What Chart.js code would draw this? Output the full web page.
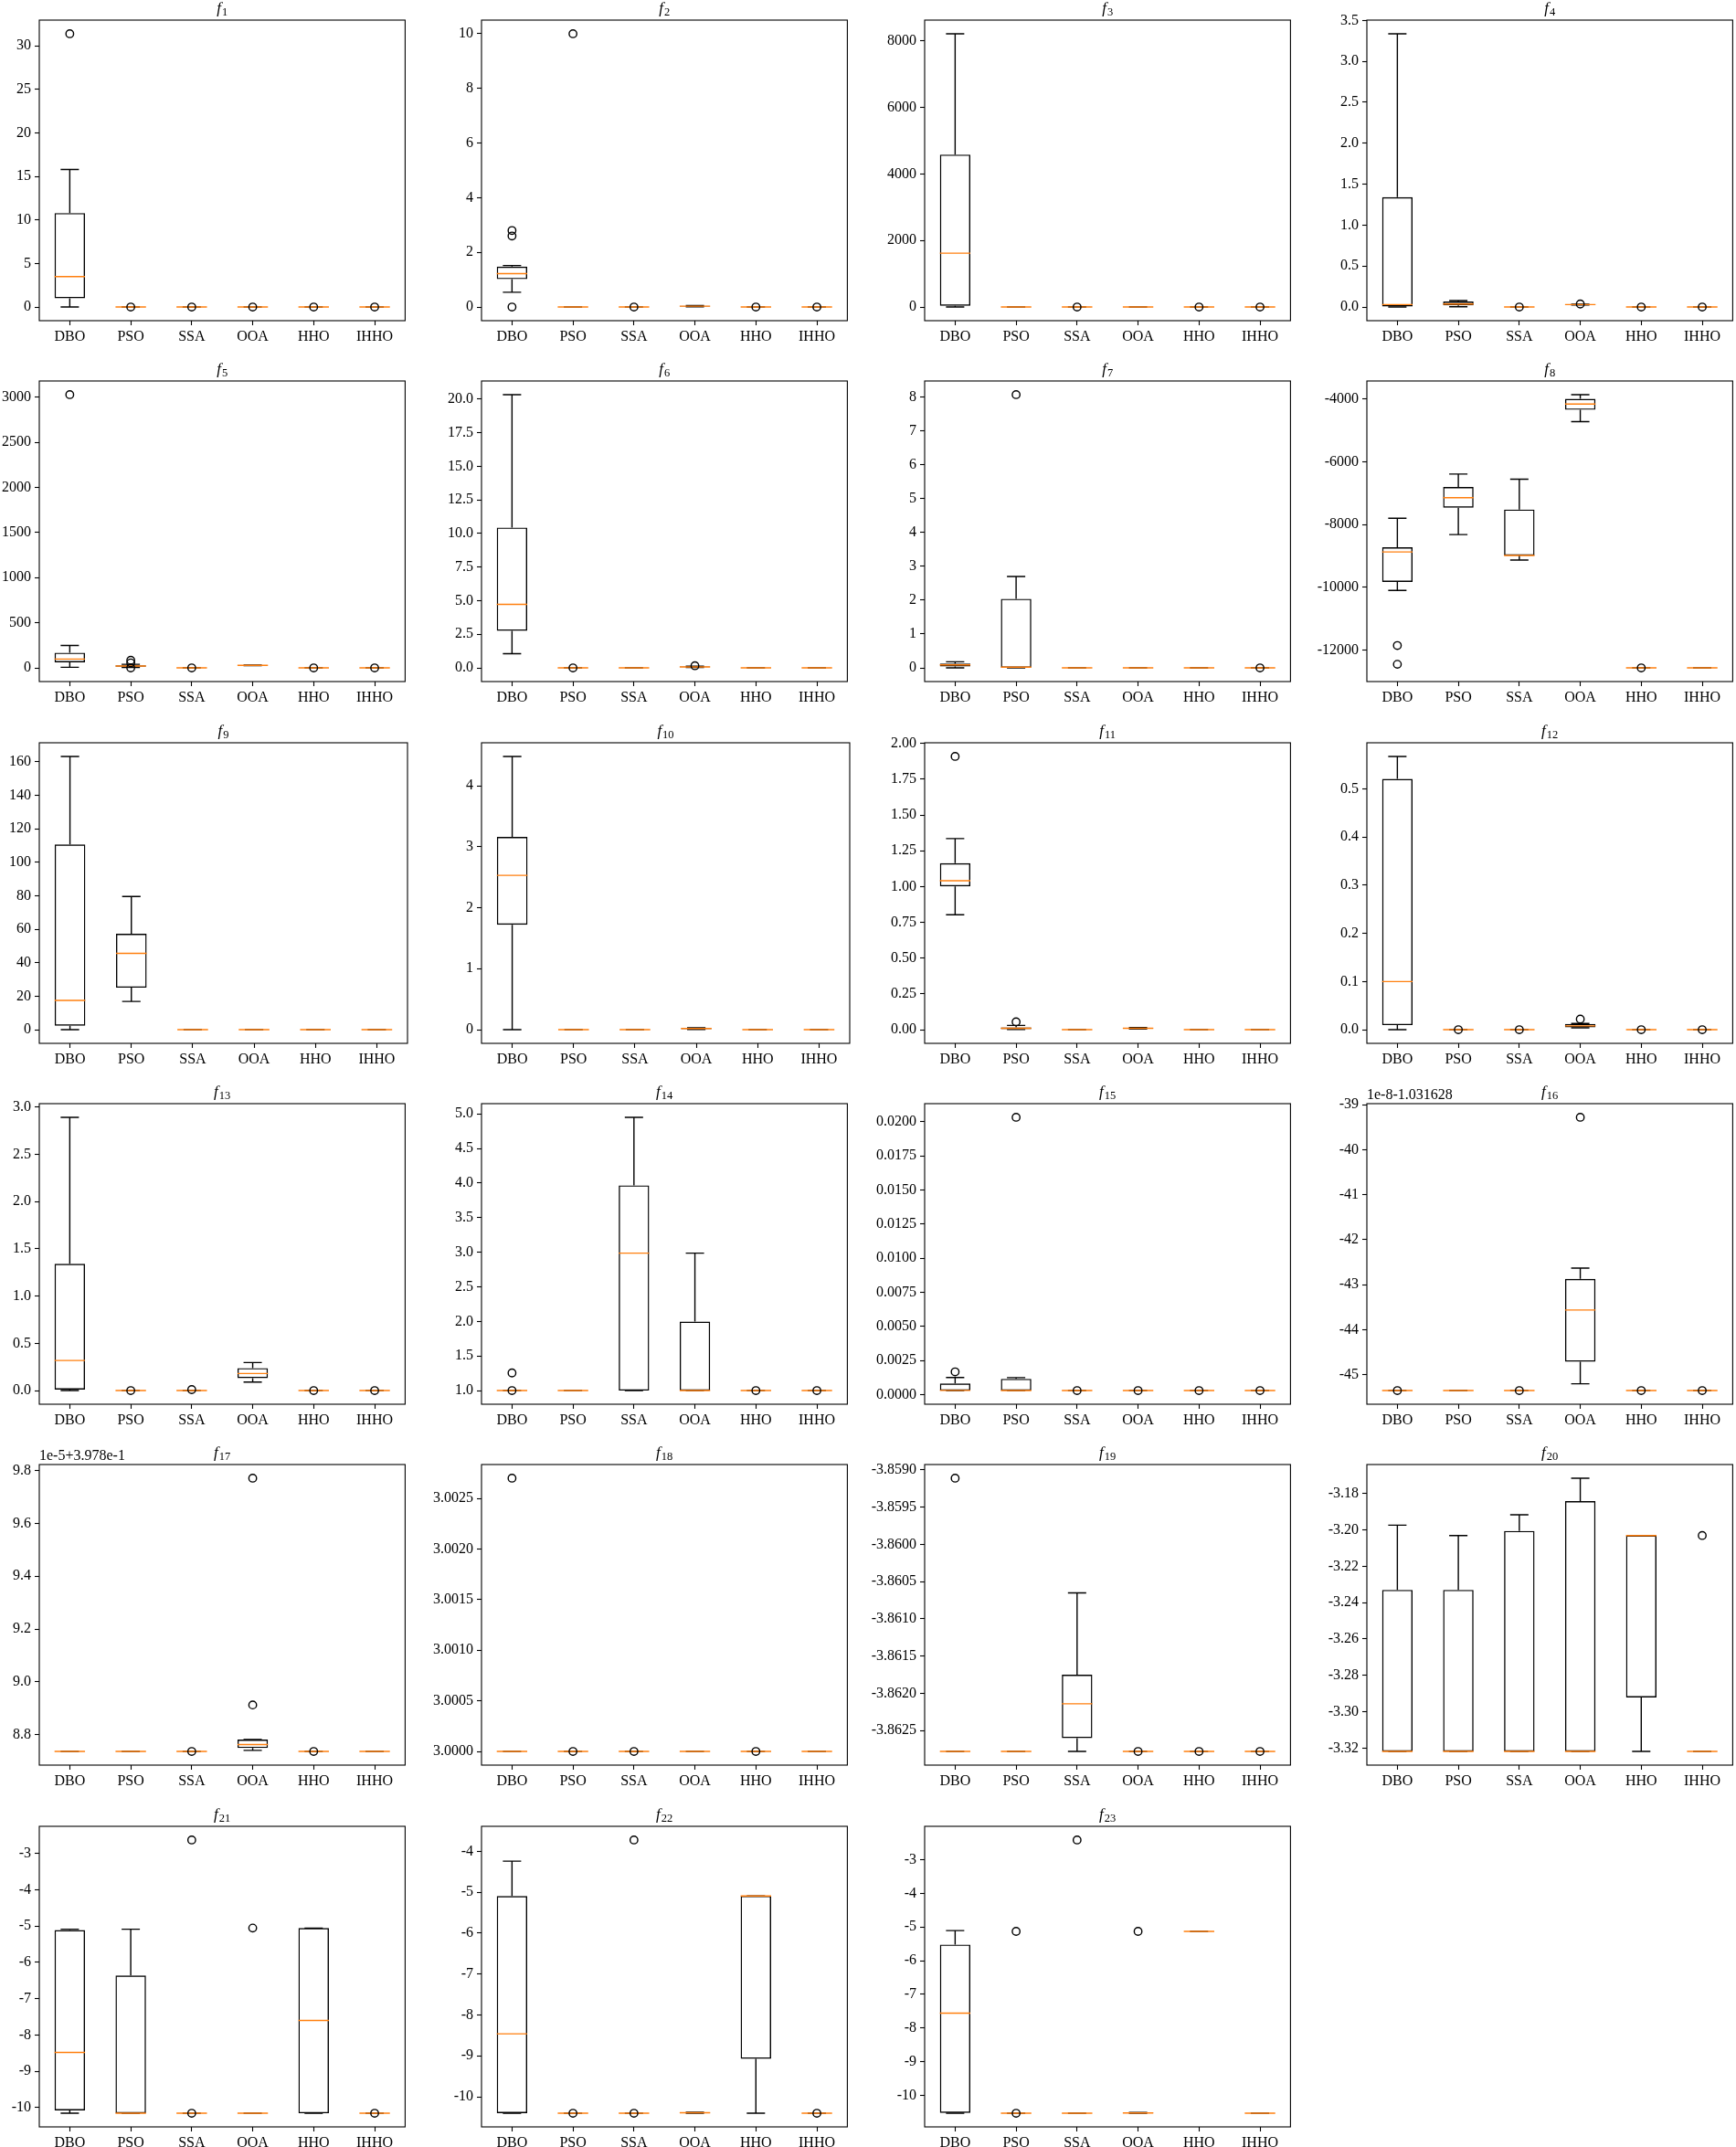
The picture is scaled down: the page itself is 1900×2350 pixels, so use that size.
<!DOCTYPE html>
<html>
<head>
<meta charset="utf-8">
<title>Box plots f1-f23</title>
<script src="https://cdn.jsdelivr.net/npm/chart.js@4.4.1/dist/chart.umd.min.js"></script>
<style>
  html, body { margin: 0; padding: 0; background: #fff; }
  #page { position: relative; width: 1900px; height: 2350px; }
  #page canvas { position: absolute; }
  .warm { position: absolute; left: 0; top: 0; visibility: hidden; font-family: "Liberation Serif"; font-size: 16px; }
</style>
</head>
<body>
<div class="warm">DBO 0123 <i>f</i></div>
<div id="page"></div>
<script>
const algorithms = ['DBO', 'PSO', 'SSA', 'OOA', 'HHO', 'IHHO'];

// every box: [low whisker, Q1, median, Q3, high whisker]; outliers per algorithm
const f1Box = [[0, 1.0, 3.5, 10.8, 15.8], [0, 0, 0, 0, 0], [0, 0, 0, 0, 0], [0, 0, 0, 0, 0], [0, 0, 0, 0, 0], [0, 0, 0, 0, 0]];
const f1Out = [[31.4], [0], [0], [0], [0], [0]];

const f2Box = [[0.54, 1.02, 1.22, 1.48, 1.52], [0, 0, 0, 0, 0], [0, 0, 0, 0, 0], [0.01, 0.02, 0.03, 0.04, 0.05], [0, 0, 0, 0, 0], [0, 0, 0, 0, 0]];
const f2Out = [[2.8, 2.6, 0], [10.0], [0], [], [0], [0]];

const f3Box = [[0, 37, 1620, 4586, 8220], [0, 0, 0, 0, 0], [0, 0, 0, 0, 0], [0, 0, 0, 0, 0], [0, 0, 0, 0, 0], [0, 0, 0, 0, 0]];
const f3Out = [[], [], [0], [], [0], [0]];

const f4Box = [[0, 0.007, 0.03, 1.342, 3.337], [0.004, 0.019, 0.037, 0.067, 0.078], [0, 0, 0, 0, 0], [0.025, 0.027, 0.03, 0.033, 0.035], [0, 0, 0, 0, 0], [0, 0, 0, 0, 0]];
const f4Out = [[], [], [0], [0.037], [0], [0]];

const f5Box = [[7, 61, 98, 168, 249], [5, 12, 20, 28, 40], [0, 0, 0, 0, 0], [26, 27, 28, 30, 31], [0, 0, 0, 0, 0], [0, 0, 0, 0, 0]];
const f5Out = [[3027], [85, 55, 0], [0], [], [0], [0]];

const f6Box = [[1.06, 2.76, 4.73, 10.45, 20.34], [0, 0, 0, 0, 0], [0, 0, 0, 0, 0], [0.03, 0.05, 0.07, 0.1, 0.12], [0, 0, 0, 0, 0], [0, 0, 0, 0, 0]];
const f6Out = [[], [0], [], [0.16], [], []];

const f7Box = [[0, 0.045, 0.09, 0.13, 0.18], [0, 0.005, 0.02, 2.04, 2.70], [0, 0, 0, 0, 0], [0, 0, 0, 0, 0], [0, 0, 0, 0, 0], [0, 0, 0, 0, 0]];
const f7Out = [[], [8.07], [], [], [], [0]];

const f8Box = [[-10097, -9826, -8870, -8725, -7797], [-8319, -7459, -7140, -6802, -6386], [-9130, -8986, -8986, -7517, -6551],
  [-4715, -4338, -4155, -3990, -3855], [-12569, -12569, -12569, -12569, -12569], [-12569, -12569, -12569, -12569, -12569]];
const f8Out = [[-11855, -12454], [], [], [], [-12569], []];

const f9Box = [[0, 2.4, 17.5, 110.7, 163.3], [16.9, 25.1, 45.6, 57.3, 79.6], [0, 0, 0, 0, 0], [0, 0, 0, 0, 0], [0, 0, 0, 0, 0], [0, 0, 0, 0, 0]];
const f9Out = [[], [], [], [], [], []];

const f10Box = [[0, 1.72, 2.53, 3.16, 4.48], [0, 0, 0, 0, 0], [0, 0, 0, 0, 0], [0.005, 0.01, 0.02, 0.025, 0.03], [0, 0, 0, 0, 0], [0, 0, 0, 0, 0]];
const f10Out = [[], [], [], [], [], []];

const f11Box = [[0.803, 1.001, 1.041, 1.163, 1.335], [0.001, 0.003, 0.01, 0.017, 0.03], [0, 0, 0, 0, 0], [0.005, 0.007, 0.01, 0.012, 0.015], [0, 0, 0, 0, 0], [0, 0, 0, 0, 0]];
const f11Out = [[1.909], [0.055], [], [], [], []];

const f12Box = [[0, 0.0095, 0.0999, 0.521, 0.5676], [0, 0, 0, 0, 0], [0, 0, 0, 0, 0], [0.004, 0.005, 0.008, 0.012, 0.013], [0, 0, 0, 0, 0], [0, 0, 0, 0, 0]];
const f12Out = [[], [0], [0], [0.022], [0], [0]];

const f13Box = [[0, 0.01, 0.318, 1.341, 2.89], [0, 0, 0, 0, 0], [0, 0, 0, 0, 0], [0.09, 0.132, 0.18, 0.238, 0.296], [0, 0, 0, 0, 0], [0, 0, 0, 0, 0]];
const f13Out = [[], [0], [0.01], [], [0], [0]];

const f14Box = [[1, 1, 1, 1, 1], [1, 1, 1, 1, 1], [1, 1, 2.987, 3.967, 4.95], [1, 1, 1, 1.998, 2.987], [1, 1, 1, 1, 1], [1, 1, 1, 1, 1]];
const f14Out = [[1.255, 1.0], [], [], [], [1.0], [1.0]];

const f15Box = [[0.0003, 0.0003, 0.00031, 0.00082, 0.00126], [0.0003, 0.0003, 0.0003, 0.00116, 0.00125], [0.0003, 0.0003, 0.0003, 0.0003, 0.0003],
  [0.0003, 0.0003, 0.0003, 0.0003, 0.0003], [0.0003, 0.0003, 0.0003, 0.0003, 0.0003], [0.0003, 0.0003, 0.0003, 0.0003, 0.0003]];
const f15Out = [[0.00167], [0.02033], [0.0003], [0.0003], [0.0003], [0.0003]];

const f16Box = [[-45.35, -45.35, -45.35, -45.35, -45.35], [-45.35, -45.35, -45.35, -45.35, -45.35], [-45.35, -45.35, -45.35, -45.35, -45.35],
  [-45.20, -44.71, -43.56, -42.87, -42.63], [-45.35, -45.35, -45.35, -45.35, -45.35], [-45.35, -45.35, -45.35, -45.35, -45.35]];
const f16Out = [[-45.35], [], [-45.35], [-39.28], [-45.35], [-45.35]];

const f17Box = [[8.737, 8.737, 8.737, 8.737, 8.737], [8.737, 8.737, 8.737, 8.737, 8.737], [8.737, 8.737, 8.737, 8.737, 8.737],
  [8.741, 8.750, 8.763, 8.782, 8.782], [8.737, 8.737, 8.737, 8.737, 8.737], [8.737, 8.737, 8.737, 8.737, 8.737]];
const f17Out = [[], [], [8.737], [9.771, 8.913], [8.737], []];

const f18Box = [[3, 3, 3, 3, 3], [3, 3, 3, 3, 3], [3, 3, 3, 3, 3], [3, 3, 3, 3, 3], [3, 3, 3, 3, 3], [3, 3, 3, 3, 3]];
const f18Out = [[3.0027], [3.0], [3.0], [], [3.0], []];

const f19Box = [[-3.86278, -3.86278, -3.86278, -3.86278, -3.86278], [-3.86278, -3.86278, -3.86278, -3.86278, -3.86278],
  [-3.86278, -3.8626, -3.86214, -3.86175, -3.86065], [-3.86278, -3.86278, -3.86278, -3.86278, -3.86278],
  [-3.86278, -3.86278, -3.86278, -3.86278, -3.86278], [-3.86278, -3.86278, -3.86278, -3.86278, -3.86278]];
const f19Out = [[-3.85911], [], [], [-3.86278], [-3.86278], [-3.86278]];

const f20Box = [[-3.3218, -3.3218, -3.3218, -3.233, -3.1974], [-3.3218, -3.3218, -3.3218, -3.233, -3.2031], [-3.3218, -3.3218, -3.3218, -3.2006, -3.1917],
  [-3.3218, -3.3218, -3.3218, -3.1842, -3.1716], [-3.3218, -3.2921, -3.2031, -3.2031, -3.2031], [-3.3218, -3.3218, -3.3218, -3.3218, -3.3218]];
const f20Out = [[], [], [], [], [], [-3.2031]];

const f21Box = [[-10.15, -10.075, -8.48, -5.11, -5.086], [-10.153, -10.153, -10.153, -6.36, -5.086], [-10.153, -10.153, -10.153, -10.153, -10.153],
  [-10.153, -10.153, -10.153, -10.153, -10.153], [-10.153, -10.153, -7.60, -5.055, -5.055], [-10.153, -10.153, -10.153, -10.153, -10.153]];
const f21Out = [[], [], [-2.63, -10.153], [-5.055], [], [-10.153]];

const f22Box = [[-10.403, -10.40, -8.46, -5.09, -4.237], [-10.403, -10.403, -10.403, -10.403, -10.403], [-10.403, -10.403, -10.403, -10.403, -10.403],
  [-10.403, -10.40, -10.39, -10.38, -10.38], [-10.403, -9.07, -5.088, -5.088, -5.088], [-10.403, -10.403, -10.403, -10.403, -10.403]];
const f22Out = [[], [-10.403], [-3.72, -10.403], [], [], [-10.403]];

const f23Box = [[-10.536, -10.525, -7.56, -5.52, -5.105], [-10.536, -10.536, -10.536, -10.536, -10.536], [-10.536, -10.536, -10.536, -10.536, -10.536],
  [-10.536, -10.536, -10.53, -10.51, -10.51], [-5.128, -5.128, -5.128, -5.128, -5.128], [-10.536, -10.536, -10.536, -10.536, -10.536]];
const f23Out = [[], [-5.128, -10.536], [-2.41], [-5.128], [], []];

const boxSets = [f1Box, f2Box, f3Box, f4Box, f5Box, f6Box, f7Box, f8Box, f9Box, f10Box, f11Box, f12Box,
  f13Box, f14Box, f15Box, f16Box, f17Box, f18Box, f19Box, f20Box, f21Box, f22Box, f23Box];
const outlierSets = [f1Out, f2Out, f3Out, f4Out, f5Out, f6Out, f7Out, f8Out, f9Out, f10Out, f11Out, f12Out,
  f13Out, f14Out, f15Out, f16Out, f17Out, f18Out, f19Out, f20Out, f21Out, f22Out, f23Out];

// y tick spacing and decimals for f1..f23
const tickSteps = [5, 2, 2000, 0.5, 500, 2.5, 1, 2000, 20, 1, 0.25, 0.1, 0.5, 0.5, 0.0025, 1, 0.2, 0.0005, 0.0005, 0.02, 1, 1, 1];
const tickDecimals = [0, 0, 0, 1, 0, 1, 0, 0, 0, 0, 2, 1, 1, 1, 4, 0, 1, 4, 4, 2, 0, 0, 0];
const offsetLabels = { 16: '1e-8-1.031628', 17: '1e-5+3.978e-1' };

// subplot grid (axes box positions in page pixels)
const colLeft = [43, 527, 1012, 1496];
const rowTop = [22, 417, 813, 1208, 1603, 1999];
const axW = 403, axH = 329;
const padL = 5, yAxisW = 80, padT = 34, xAxisH = 40, padR = 3, padB = 2;

const FONT = '"Liberation Serif", "Times New Roman", serif';
Chart.defaults.font.family = FONT;
Chart.defaults.font.size = 16;
Chart.defaults.color = '#000';

const boxParts = {
  id: 'boxParts',
  afterDatasetDraw(chart, args, opts) {
    if (args.meta.type !== 'bar') return;
    const x = chart.scales.x, y = chart.scales.y, ctx = chart.ctx;
    ctx.save();
    ctx.lineWidth = 1.4;
    opts.stats.forEach((s, i) => {
      const cx = x.getPixelForValue(i);
      const half = args.meta.data[i].width / 2;
      const cap = half * 0.6;
      const [lo, q1, med, q3, hi] = s.map(v => y.getPixelForValue(v));
      ctx.strokeStyle = '#000';
      ctx.beginPath();
      ctx.moveTo(cx, q1); ctx.lineTo(cx, lo);
      ctx.moveTo(cx, q3); ctx.lineTo(cx, hi);
      ctx.moveTo(cx - cap, lo); ctx.lineTo(cx + cap, lo);
      ctx.moveTo(cx - cap, hi); ctx.lineTo(cx + cap, hi);
      ctx.stroke();
      ctx.strokeStyle = '#ff7f0e';
      ctx.beginPath();
      ctx.moveTo(cx - half, med); ctx.lineTo(cx + half, med);
      ctx.stroke();
    });
    ctx.restore();
  },
  afterDraw(chart, args, opts) {
    const a = chart.chartArea, ctx = chart.ctx;
    ctx.save();
    ctx.strokeStyle = '#000';
    ctx.lineWidth = 1.1;
    ctx.strokeRect(a.left, a.top, a.right - a.left, a.bottom - a.top);
    // title: italic f with subscript number
    const cx = (a.left + a.right) / 2;
    ctx.fillStyle = '#000';
    ctx.textBaseline = 'alphabetic';
    ctx.font = 'italic 17px ' + FONT;
    const fw = ctx.measureText('f').width + 1;
    ctx.font = '12.5px ' + FONT;
    const sw = ctx.measureText(String(opts.num)).width;
    const start = cx - (fw + sw) / 2;
    ctx.font = 'italic 17px ' + FONT;
    ctx.fillText('f', start, a.top - 8);
    ctx.font = '12.5px ' + FONT;
    ctx.fillText(String(opts.num), start + fw, a.top - 5);
    if (opts.offset) {
      ctx.font = '16px ' + FONT;
      ctx.textAlign = 'left';
      ctx.fillText(opts.offset, a.left, a.top - 5);
    }
    ctx.restore();
  }
};

const page = document.getElementById('page');

function drawAll() {
  boxSets.forEach((boxes, k) => {
    const outs = outlierSets[k];
    const col = k % 4, row = Math.floor(k / 4);
    const canvas = document.createElement('canvas');
    const w = padL + yAxisW + axW + padR, h = padT + axH + xAxisH + padB;
    canvas.width = w; canvas.height = h;
    canvas.style.width = w + 'px'; canvas.style.height = h + 'px';
    canvas.style.left = (colLeft[col] - yAxisW - padL) + 'px';
    canvas.style.top = (rowTop[row] - padT) + 'px';
    page.appendChild(canvas);

    // matplotlib style autoscale: data range plus 5% margin
    const all = boxes.flat().concat(outs.flat());
    const lo = Math.min(...all), hi = Math.max(...all);
    const margin = (hi - lo) * 0.05;
    const step = tickSteps[k];

    const points = [];
    outs.forEach((list, i) => list.forEach(v => points.push({ x: algorithms[i], y: v })));

    new Chart(canvas, {
      type: 'bar',
      data: {
        labels: algorithms,
        datasets: [
          {
            type: 'scatter',
            data: points,
            pointStyle: 'circle',
            pointRadius: 4.2,
            pointBackgroundColor: 'rgba(0,0,0,0)',
            pointBorderColor: '#000',
            pointBorderWidth: 1.4
          },
          {
            type: 'bar',
            data: boxes.map(b => [b[1], b[3]]),
            backgroundColor: 'rgba(0,0,0,0)',
            borderColor: '#000',
            borderWidth: 1.4,
            borderSkipped: false,
            barPercentage: 0.5,
            categoryPercentage: 1.0
          }
        ]
      },
      options: {
        responsive: false,
        animation: false,
        events: [],
        layout: { padding: { left: padL, top: padT, right: padR, bottom: padB } },
        plugins: {
          legend: { display: false },
          tooltip: { enabled: false },
          boxParts: { stats: boxes, num: k + 1, offset: offsetLabels[k + 1] }
        },
        scales: {
          x: {
            type: 'category',
            offset: true,
            border: { display: false },
            grid: { offset: false, drawOnChartArea: false, tickLength: 5, tickColor: '#000', tickWidth: 1.1 },
            ticks: { padding: 3, autoSkip: false, maxRotation: 0, color: '#000' },
            afterFit: s => { s.height = xAxisH; }
          },
          y: {
            type: 'linear',
            min: lo - margin,
            max: hi + margin,
            border: { display: false },
            grid: { drawOnChartArea: false, tickLength: 5, tickColor: '#000', tickWidth: 1.1 },
            ticks: {
              padding: 4,
              color: '#000',
              autoSkip: false,
              callback: v => Number(v).toFixed(tickDecimals[k])
            },
            // ticks on multiples of the step, like matplotlib's locator
            afterBuildTicks: s => {
              const ticks = [];
              for (let n = Math.ceil(s.min / step - 1e-9); n * step <= s.max + 1e-12; n++) {
                ticks.push({ value: Number((n * step).toFixed(8)) });
              }
              s.ticks = ticks;
            },
            afterFit: s => { s.width = yAxisW; }
          }
        }
      },
      plugins: [boxParts]
    });
  });
}

document.fonts.ready.then(drawAll, drawAll);
</script>
</body>
</html>
